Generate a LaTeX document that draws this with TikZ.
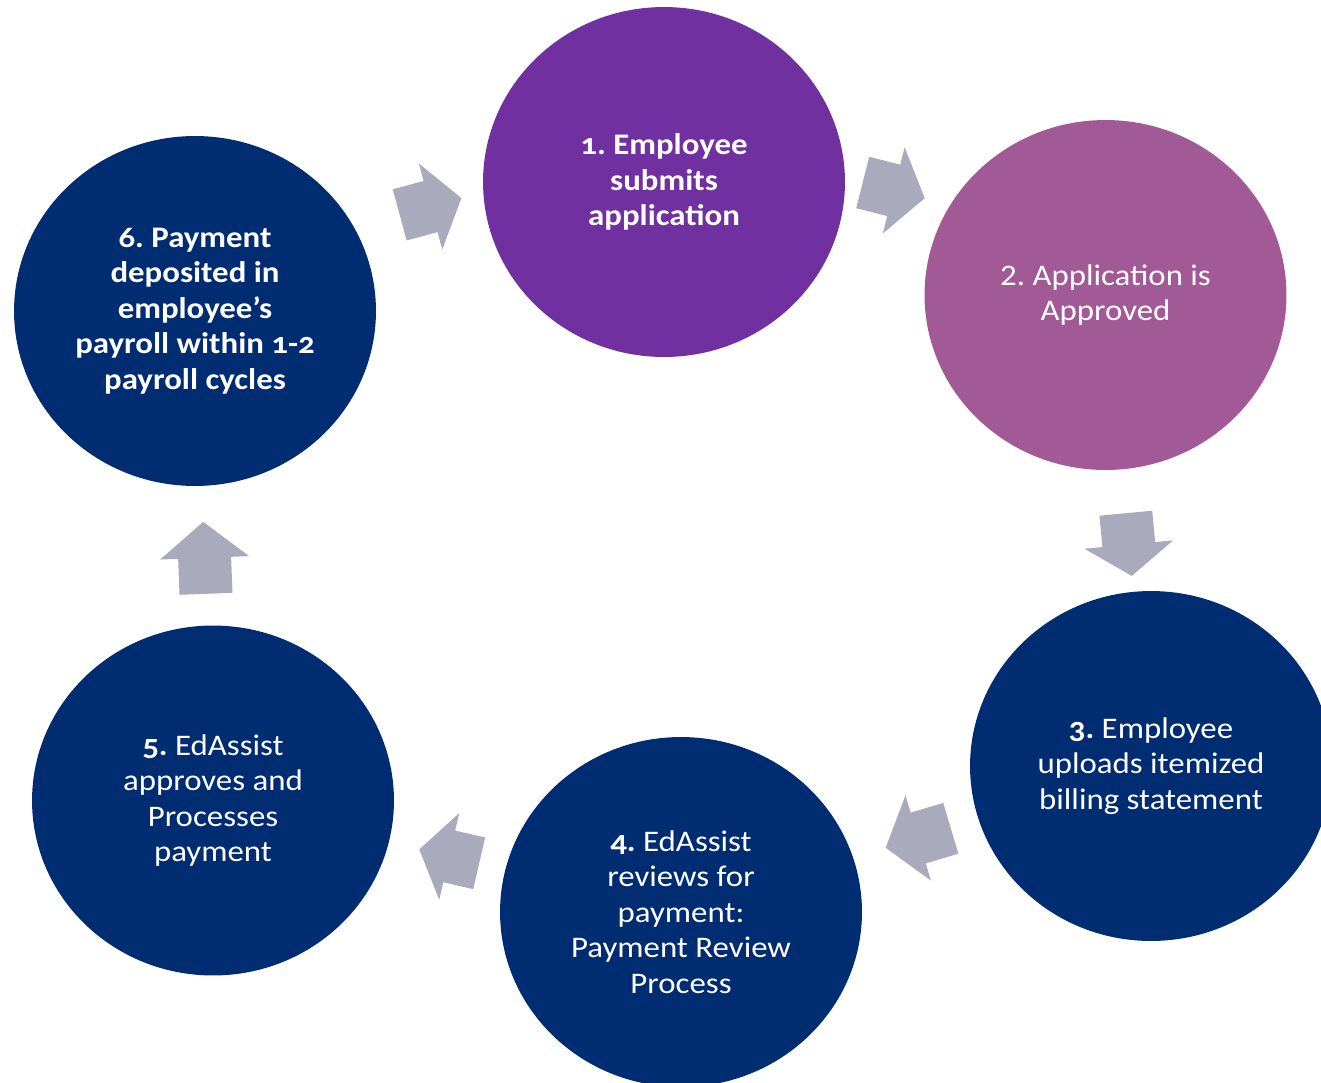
\documentclass[tikz,border=0pt]{standalone}
\usepackage{fontspec}
\setmainfont{Carlito}[Numbers=OldStyle,FakeStretch=1.1]
\usetikzlibrary{shapes.geometric}
\definecolor{cpurple}{HTML}{7030A0}
\definecolor{cmauve}{HTML}{A25A96}
\definecolor{cnavy}{HTML}{002D72}
\definecolor{cgray}{HTML}{A9ABBC}
\frenchspacing
\tikzset{
  circ/.style={ellipse, minimum width=7.24cm, minimum height=7cm, inner sep=0pt,
    align=center, text=white, font=\fontsize{17}{20.2}\selectfont},
  arrowfill/.style={fill=cgray}
}
\newcommand\blockarrow[4]{%
  \fill[arrowfill,shift={(#1,#2)},rotate=#3]
    (0,-26.5) -- ({#4/2},-26.5) -- ({#4/2},-44.5) -- (#4,0) --
    ({#4/2},44.5) -- ({#4/2},26.5) -- (0,26.5) -- cycle;}
\begin{document}
\begin{tikzpicture}[x=0.02cm,y=-0.02cm]
\useasboundingbox (0,0) rectangle (1321,1082);
\clip (0,0) rectangle (1321,1082);
\node[circ, fill=cpurple] (s1) at (664,182) {\textbf{1. Employee}\\\textbf{submits}\\\textbf{application}};
\node[circ, fill=cmauve] (s2) at (1105.5,295) {\addfontfeatures{Numbers=Lining}2. Application is\\Approved};
\node[circ, fill=cnavy] (s3) at (1151,766) {\textbf{3.} Employee\\uploads itemized\\billing statement};
\node[circ, fill=cnavy] (s4) at (681,912) {\textbf{4.} EdAssist\\reviews for\\payment:\\Payment Review\\Process};
\node[circ, fill=cnavy] (s5) at (213,800.5) {\textbf{5.} EdAssist\\approves and\\Processes\\payment};
\node[circ, fill=cnavy] (s6) at (195,311) {\textbf{6. Payment}\\\textbf{deposited in}\\\textbf{employee’s}\\\textbf{payroll within 1-2}\\\textbf{payroll cycles}};
\blockarrow{399.7}{214.9}{15.2}{64}
\blockarrow{862.7}{182.5}{-14.2}{64}
\blockarrow{1125.8}{513.2}{-84.6}{63}
\blockarrow{950.8}{828.3}{-163.4}{68}
\blockarrow{479.2}{863.3}{167}{61.5}
\blockarrow{206}{593.8}{92.2}{72}
\end{tikzpicture}
\end{document}
